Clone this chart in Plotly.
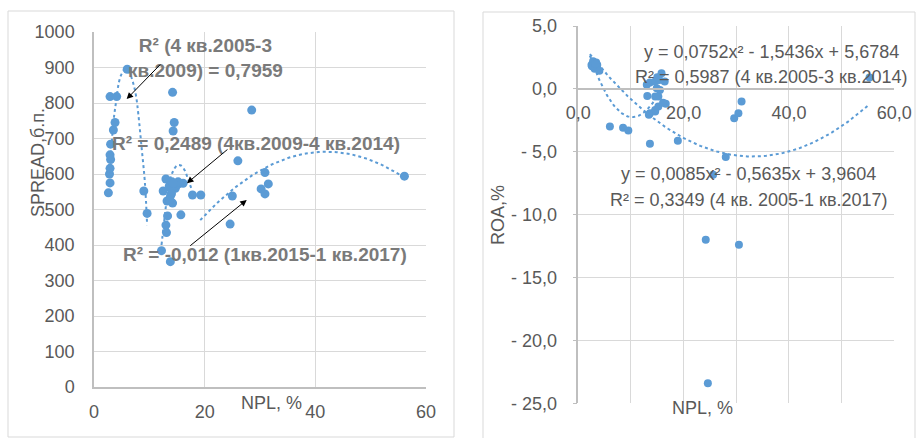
import numpy as np
import plotly.graph_objects as go

# ---------------- data: left chart (NPL vs SPREAD) ----------------
spread_npl = [2.6, 2.9, 2.8, 2.9, 3.0, 2.9, 3.0, 3.5, 3.8, 2.9, 4.1, 6.0, 9.0, 9.6,
              12.5, 13.0, 13.2, 14.2, 13.9, 13.6, 14.1, 14.7, 15.3, 14.2, 14.5, 14.3,
              15.7, 13.3, 17.8, 19.3, 26.0, 28.5, 25.0, 30.9, 31.5, 30.2, 30.9, 56.1,
              13.0, 13.1, 12.2, 13.8, 24.6, 16.1, 15.2, 14.3, 14.0, 13.7]
spread_val = [547, 575, 600, 616, 641, 654, 684, 724, 745, 818, 818, 895, 552, 489,
              552, 586, 524, 518, 541, 566, 578, 560, 572, 830, 745, 721,
              485, 482, 541, 541, 637, 780, 538, 604, 572, 558, 544, 594,
              456, 435, 384, 353, 459, 574, 578, 574, 545, 527]

# trendline curves (dotted)
trend1_x = [3.0, 3.5, 4.0, 4.5, 5.0, 5.7, 6.4, 7.1, 7.6, 8.0, 8.6, 9.2, 9.6]
trend1_y = [640, 745, 805, 858, 882, 895, 885, 855, 820, 770, 675, 575, 456]
trend2_x = [12.2, 12.6, 13.0, 13.5, 14.2, 15.0, 15.7, 16.4, 17.0, 17.7]
trend2_y = [400, 455, 510, 565, 605, 624, 624, 610, 585, 555]
trend3_coef = [-0.371, 31.16, 8.6]
trend3_range = [19.2, 56.0]

# ---------------- data: right chart (NPL vs ROA) ----------------
roa_npl = [2.5, 2.8, 3.4, 3.6, 3.1, 4.0, 2.6, 3.2, 6.0, 8.5, 9.5, 13.0, 13.1, 13.6,
           13.6, 13.6, 14.6, 14.9, 14.6, 15.2, 15.2, 15.5, 15.4, 15.8, 16.4, 16.6,
           15.0, 14.6, 18.9, 28.0, 25.6, 29.6, 30.4, 31.0, 55.3, 24.2, 30.5, 24.6,
           14.6, 16.1, 13.4]
roa_val = [1.9, 2.2, 2.1, 1.9, 1.6, 1.45, 1.8, 2.0, -3.0, -3.1, -3.3, 0.32, -0.56, 0.5,
           -1.93, -4.37, 0.58, 0.05, -1.8, -1.4, -0.6, -0.08, 0.7, 1.24, 0.58, -1.19,
           0.93, -0.6, -4.13, -5.42, -6.83, -2.33, -1.93, -1.0, 0.9, -12.0, -12.4, -23.4,
           -1.67, -1.1, -2.06]

roa_trend1_coef = [0.0752, -1.5436, 5.6784]
roa_trend1_range = [2.2, 15.5]
roa_trend2_coef = [0.0085, -0.5635, 3.9604]
roa_trend2_range = [2.2, 55.3]

left_xticks = [0, 20, 40, 60]
left_xtext = ["0", "20", "40", "60"]
right_xticks = [0, 10, 20, 30, 40, 50, 60]
right_xtext = ["0,0", "", "20,0", "", "40,0", "", "60,0"]
right_yticks = [5, 0, -5, -10, -15, -20, -25]
right_ytext = ["5,0", "0,0", "- 5,0", "- 10,0", "- 15,0", "- 20,0", "- 25,0"]

BLUE = "#5B9BD5"
GRID = "#D9D9D9"
AXL = "#BFBFBF"
TXT = "#595959"
FONT = "Liberation Sans"
W, H = 917, 438


def px(x):
    return x / W


def py(y):
    return 1 - y / H


fig = go.Figure()

# left chart
fig.add_trace(go.Scatter(x=trend1_x, y=trend1_y, mode="lines", line=dict(color=BLUE, width=2, dash="dot", shape="spline"),
                         xaxis="x", yaxis="y", hoverinfo="skip"))
fig.add_trace(go.Scatter(x=trend2_x, y=trend2_y, mode="lines", line=dict(color=BLUE, width=2, dash="dot", shape="spline"),
                         xaxis="x", yaxis="y", hoverinfo="skip"))
t3x = np.linspace(trend3_range[0], trend3_range[1], 80)
fig.add_trace(go.Scatter(x=t3x, y=np.polyval(trend3_coef, t3x), mode="lines",
                         line=dict(color=BLUE, width=2, dash="dot"), xaxis="x", yaxis="y", hoverinfo="skip"))
fig.add_trace(go.Scatter(x=spread_npl, y=spread_val, mode="markers", marker=dict(color=BLUE, size=9),
                         xaxis="x", yaxis="y"))

# right chart
r1x = np.linspace(roa_trend1_range[0], roa_trend1_range[1], 60)
r2x = np.linspace(roa_trend2_range[0], roa_trend2_range[1], 120)
fig.add_trace(go.Scatter(x=r1x, y=np.polyval(roa_trend1_coef, r1x), mode="lines",
                         line=dict(color=BLUE, width=2, dash="dot"), xaxis="x2", yaxis="y2", hoverinfo="skip"))
fig.add_trace(go.Scatter(x=r2x, y=np.polyval(roa_trend2_coef, r2x), mode="lines",
                         line=dict(color=BLUE, width=2, dash="dot"), xaxis="x2", yaxis="y2", hoverinfo="skip"))
fig.add_trace(go.Scatter(x=roa_npl, y=roa_val, mode="markers", marker=dict(color=BLUE, size=8),
                         xaxis="x2", yaxis="y2"))

tickfont = dict(family=FONT, size=18, color=TXT)

fig.update_layout(
    width=W, height=H, margin=dict(l=0, r=0, t=0, b=0, pad=0),
    paper_bgcolor="white", plot_bgcolor="white", showlegend=False,
    font=dict(family=FONT, size=18, color=TXT),
    xaxis=dict(domain=[px(94), px(426)], range=[0, 60], tickvals=left_xticks, ticktext=left_xtext,
               showgrid=True, gridcolor=GRID, showline=True, linecolor=AXL, linewidth=1.5,
               zeroline=False, anchor="y", tickfont=tickfont, ticks="", ticklabelstandoff=8,
               automargin=False),
    yaxis=dict(domain=[py(387), py(32)], range=[0, 1000], dtick=100,
               showgrid=True, gridcolor=GRID, showline=True, linecolor=AXL, linewidth=1.5,
               zeroline=False, anchor="x", tickfont=tickfont, ticks="", ticklabelstandoff=14,
               automargin=False),
    xaxis2=dict(domain=[px(578.3), px(894.3)], range=[0, 60], tickvals=right_xticks, ticktext=right_xtext,
                showgrid=True, gridcolor=GRID, showline=True, linecolor=AXL, linewidth=1.5,
                zeroline=False, anchor="free", position=py(89), tickfont=tickfont, ticks="",
                ticklabelstandoff=8, automargin=False),
    yaxis2=dict(domain=[py(403.3), py(26)], range=[-25, 5], tickvals=right_yticks, ticktext=right_ytext,
                showgrid=True, gridcolor=GRID, showline=True, linecolor=AXL, linewidth=1.5,
                zeroline=False, anchor="x2", tickfont=tickfont, ticks="outside", ticklen=4,
                tickcolor=AXL, ticklabelstandoff=12, automargin=False),
)

shapes = [
    dict(type="rect", xref="paper", yref="paper", x0=px(8), x1=px(454), y0=py(437), y1=py(11),
         line=dict(color=GRID, width=1), fillcolor="rgba(0,0,0,0)", layer="below"),
    dict(type="rect", xref="paper", yref="paper", x0=px(483), x1=px(915), y0=py(445), y1=py(12),
         line=dict(color=GRID, width=1), fillcolor="rgba(0,0,0,0)", layer="below"),
]
fig.update_layout(shapes=shapes)

BOLD = "#7A7A7A"
ann = []
# left: bold R² labels
ann.append(dict(xref="x", yref="y", x=20.1, y=927, text="<b>R² (4 кв.2005-3<br>кв.2009) = 0,7959</b>",
                showarrow=False, font=dict(family=FONT, size=19, color=BOLD)))
ann.append(dict(xref="x", yref="y", x=29.3, y=686, text="<b>R² = 0,2489 (4кв.2009-4 кв.2014)</b>",
                showarrow=False, font=dict(family=FONT, size=19, color=BOLD)))
ann.append(dict(xref="x", yref="y", x=30.9, y=372, text="<b>R² = -0,012 (1кв.2015-1 кв.2017)</b>",
                showarrow=False, font=dict(family=FONT, size=19, color=BOLD)))
# left: arrows
for hx, hy, ax, ay in [(5.9, 811, 35, -36), (16.8, 574, 42, -35), (27.6, 527, -58, 47)]:
    ann.append(dict(xref="x", yref="y", x=hx, y=hy, ax=ax, ay=ay, text="", showarrow=True,
                    arrowhead=2, arrowsize=1.3, arrowwidth=1, arrowcolor="#000000"))
# left: axis titles
ann.append(dict(xref="paper", yref="paper", x=px(304), y=py(415), text="NPL, %", showarrow=False,
                xanchor="right", font=dict(family=FONT, size=18, color=TXT)))
ann.append(dict(xref="paper", yref="paper", x=px(26), y=py(163), text="SPREAD,б.п.", showarrow=False,
                textangle=-90, font=dict(family=FONT, size=18, color=TXT)))
# right: equations
for x, y, t in [(36.7, 2.96, "y = 0,0752x² - 1,5436x + 5,6784"),
                (36.7, 0.98, "R² = 0,5987 (4 кв.2005-3 кв.2014)"),
                (32.3, -6.75, "y = 0,0085x² - 0,5635x + 3,9604"),
                (32.5, -8.81, "R² = 0,3349 (4 кв. 2005-1 кв.2017)")]:
    ann.append(dict(xref="x2", yref="y2", x=x, y=y, text=t, showarrow=False,
                    font=dict(family=FONT, size=18, color=TXT)))
# right: axis titles
ann.append(dict(xref="paper", yref="paper", x=px(735), y=py(420), text="NPL, %", showarrow=False,
                font=dict(family=FONT, size=18, color=TXT)))
ann.append(dict(xref="paper", yref="paper", x=px(498), y=py(215), text="ROA,%", showarrow=False,
                textangle=-90, font=dict(family=FONT, size=18, color=TXT)))
fig.update_layout(annotations=ann)

fig.write_html("out.html", config={"displayModeBar": False},
               post_script="document.body.style.margin='0px';")
